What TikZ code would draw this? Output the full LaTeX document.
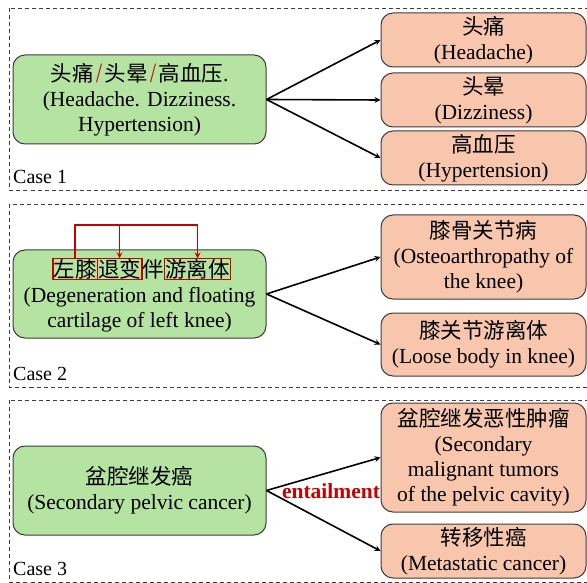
\documentclass[tikz,border=0pt]{standalone}
\usepackage{fontspec}
\setmainfont{Liberation Serif}
\newfontfamily\cjk{Noto Sans CJK SC}
\usepackage{tikz}
\usetikzlibrary{shapes.geometric, arrows}
\usetikzlibrary{positioning}
\definecolor{srcgreen}{RGB}{180,227,162}
\definecolor{tgtorange}{RGB}{247,198,172}
\definecolor{linkred}{RGB}{200,0,0}
\definecolor{boxedge}{RGB}{60,60,60}
\newcommand{\zh}[1]{{\cjk #1}}
\newcommand{\sla}{\kern2.5pt{\color{linkred}\raisebox{-1pt}{\scalebox{1}[1.3]{/}}}\kern2.5pt}
\newcommand{\bigfont}{\fontsize{21.5}{25}\selectfont}
\tikzstyle{casebox} = [draw=boxedge, dash pattern=on 4pt off 3pt, line width=0.9pt]
\tikzstyle{caselabel} = [anchor=west, inner sep=0pt, font=\fontsize{20}{24}\selectfont]
\tikzstyle{source} = [rectangle, rounded corners=12pt, minimum width=253pt, align=center, draw=boxedge, line width=1pt, fill=srcgreen, font=\bigfont, inner sep=0pt]
\tikzstyle{target} = [rectangle, rounded corners=12pt, minimum width=205pt, align=center, draw=boxedge, line width=1pt, fill=tgtorange, font=\bigfont, inner sep=0pt]
\tikzstyle{word} = [draw=linkred, line width=1.4pt, inner sep=0.7pt, outer sep=0pt, font=\bigfont\cjk]
\tikzstyle{arrow} = [line width=1.6pt,->,>=stealth]
\tikzstyle{redlink} = [line width=1.6pt,draw=linkred,->,>=stealth]

\begin{document}
\begin{tikzpicture}[x=1pt,y=-1pt]
\useasboundingbox (0,0) rectangle (587,583);
% case frames
\draw[casebox] (9.5,8) rectangle (600,190);
\draw[casebox] (9.5,204) rectangle (600,387);
\draw[casebox] (9.5,400) rectangle (600,582);
\node[caselabel] (caseA) at (13,177) {Case 1};
\node[caselabel] (caseB) at (13,374) {Case 2};
\node[caselabel] (caseC) at (13,569) {Case 3};

% case 1
\node[source,minimum height=89pt] (symptoms) at (139.5,99.5)
          {\zh{头痛}\sla\zh{头晕}\sla\zh{高血压}.\\(Headache. Dizziness.\\Hypertension)};
\node[target,minimum height=54pt] (headache) at (483.5,40)
          {\zh{头痛}\\(Headache)};
\node[target,minimum height=54pt] (dizzy) at (483.5,100)
          {\zh{头晕}\\(Dizziness)};
\node[target,minimum height=54pt] (hyper) at (483.5,158)
          {\zh{高血压}\\(Hypertension)};
\draw[arrow] (symptoms.east) -- (headache.west);
\draw[arrow] (symptoms.east) -- (dizzy.west);
\draw[arrow] (symptoms.east) -- (hyper.west);

% case 2
\node[source,minimum height=88pt] (knee) at (139.5,294) {};
\node[word,anchor=west] (zuoxi) at (53,269) {左膝};
\node[word,right=0pt of zuoxi] (tuibian) {退变};
\node[word,draw=none,right=0pt of tuibian] (ban) {伴};
\node[word,right=0pt of ban] (youli) {游离体};
\node[align=center,font=\bigfont,inner sep=0pt] (kneeEn) at (139.5,310)
          {(Degeneration and floating\\cartilage of left knee)};
\coordinate (linkTop) at (0,225);
\draw[redlink] (zuoxi.north) -- (zuoxi.north |- linkTop) -| (youli.north);
\draw[redlink] (tuibian.north |- linkTop) -- (tuibian.north);
\node[target,minimum height=84pt] (osteo) at (483.5,257)
          {\zh{膝骨关节病}\\(Osteoarthropathy of\\the knee)};
\node[target,minimum height=63pt] (loose) at (483.5,344.5)
          {\zh{膝关节游离体}\\(Loose body in knee)};
\draw[arrow] (knee.east) -- (osteo.west);
\draw[arrow] (knee.east) -- (loose.west);

% case 3
\node[source,minimum height=89pt] (pelvic) at (139.5,490.5)
          {\zh{盆腔继发癌}\\(Secondary pelvic cancer)};
\node[target,minimum height=109pt] (malig) at (483.5,457.5)
          {\zh{盆腔继发恶性肿瘤}\\(Secondary\\malignant tumors\\of the pelvic cavity)};
\node[target,minimum height=54pt] (meta) at (483.5,551)
          {\zh{转移性癌}\\(Metastatic cancer)};
\draw[arrow] (pelvic.east) -- (malig.west);
\draw[arrow] (pelvic.east) -- (meta.west);
\node[font=\bfseries\bigfont,text=linkred,inner sep=0pt] (entail) at (331,491)
          {entailment};
\end{tikzpicture}
\end{document}
